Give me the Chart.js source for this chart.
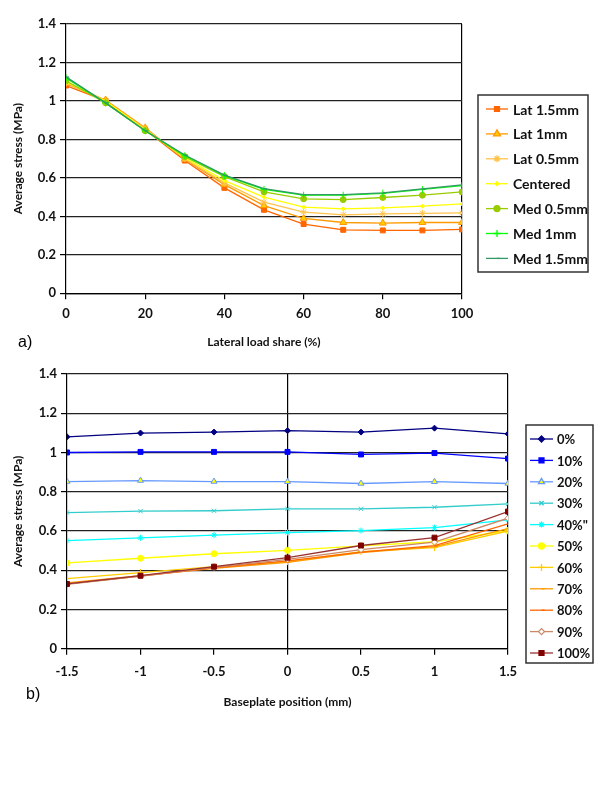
<!DOCTYPE html>
<html>
<head>
<meta charset="utf-8">
<script src="https://cdn.jsdelivr.net/npm/chart.js@4"></script>
<style>
  body { margin: 0; background: #fff; width: 600px; height: 800px; position: relative; font-family: Lato, sans-serif; }
  canvas { position: absolute; left: 0; }
  #cA { top: 0; }
  #cB { top: 355px; }
  .tag { position: absolute; font-family: "Liberation Sans", Arial, sans-serif; font-size: 16px; color: #000; }
</style>
</head>
<body>
<canvas id="cA" width="600" height="355"></canvas>
<canvas id="cB" width="600" height="365"></canvas>
<div class="tag" style="left:18px; top:333px;">a)</div>
<div class="tag" style="left:26px; top:685px;">b)</div>
<script>
// chart a: stress vs lateral load share
const loadShare = [0, 10, 20, 30, 40, 50, 60, 70, 80, 90, 100];
const lat15 = [1.08, 1.0, 0.85, 0.69, 0.548, 0.434, 0.36, 0.33, 0.327, 0.327, 0.332];
const lat1 = [1.09, 1.005, 0.86, 0.697, 0.565, 0.456, 0.39, 0.368, 0.365, 0.368, 0.368];
const lat05 = [1.095, 1.0, 0.855, 0.70, 0.574, 0.474, 0.422, 0.408, 0.413, 0.416, 0.418];
const centered = [1.10, 1.0, 0.85, 0.705, 0.586, 0.50, 0.448, 0.439, 0.444, 0.453, 0.465];
const med05 = [1.105, 0.99, 0.845, 0.71, 0.607, 0.527, 0.491, 0.487, 0.498, 0.51, 0.527];
const med1 = [1.12, 0.99, 0.845, 0.715, 0.612, 0.54, 0.51, 0.51, 0.52, 0.54, 0.56];
const med15 = [1.125, 0.99, 0.845, 0.719, 0.614, 0.544, 0.513, 0.513, 0.522, 0.543, 0.564];
const labelsA = ['Lat 1.5mm', 'Lat 1mm', 'Lat 0.5mm', 'Centered', 'Med 0.5mm', 'Med 1mm', 'Med 1.5mm'];

// chart b: stress vs baseplate position
const position = [-1.5, -1, -0.5, 0, 0.5, 1, 1.5];
const p0 = [1.08, 1.099, 1.104, 1.111, 1.104, 1.124, 1.095];
const p10 = [1.0, 1.003, 1.003, 1.003, 0.99, 0.997, 0.969];
const p20 = [0.852, 0.857, 0.852, 0.851, 0.842, 0.851, 0.842];
const p30 = [0.694, 0.701, 0.703, 0.713, 0.713, 0.721, 0.738];
const p40 = [0.551, 0.565, 0.579, 0.592, 0.602, 0.617, 0.657];
const p50 = [0.437, 0.461, 0.484, 0.501, 0.524, 0.545, 0.602];
const p60 = [0.357, 0.388, 0.418, 0.444, 0.495, 0.515, 0.60];
const p70 = [0.335, 0.372, 0.41, 0.44, 0.49, 0.52, 0.612];
const p80 = [0.33, 0.37, 0.412, 0.448, 0.492, 0.525, 0.636];
const p90 = [0.328, 0.37, 0.415, 0.455, 0.505, 0.543, 0.665];
const p100 = [0.33, 0.372, 0.418, 0.464, 0.526, 0.566, 0.699];
const labelsB = ['0%', '10%', '20%', '30%', '40%"', '50%', '60%', '70%', '80%', '90%', '100%'];

const FONT = 'Lato, sans-serif';
const fmt = v => String(+Number(v).toFixed(2));

function mkSet(label, xs, ys, line, style, fill, stroke, r, i) {
    return {
        label: label,
        data: xs.map((x, k) => ({ x: x, y: ys[k] })),
        borderColor: line,
        borderWidth: 1.3,
        pointStyle: style,
        pointRadius: r,
        pointBackgroundColor: fill,
        pointBorderColor: stroke,
        pointBorderWidth: 1,
        tension: 0,
        order: -i
    };
}

// legend drawn inside a box, line + marker like the original
const boxLegend = {
    id: 'boxLegend',
    afterDraw(chart, args, o) {
        const ctx = chart.ctx;
        ctx.save();
        ctx.strokeStyle = '#333';
        ctx.lineWidth = 1.5;
        ctx.strokeRect(o.x, o.y, o.w, o.h);
        const sets = chart.data.datasets;
        sets.forEach((ds, i) => {
            const y = o.y + o.first + i * o.step;
            ctx.strokeStyle = ds.borderColor;
            ctx.lineWidth = ds.borderWidth;
            ctx.beginPath();
            ctx.moveTo(o.x + o.lx, y);
            ctx.lineTo(o.x + o.lx + o.len, y);
            ctx.stroke();
            ctx.fillStyle = ds.pointBackgroundColor;
            ctx.strokeStyle = ds.pointBorderColor;
            Chart.helpers.drawPoint(ctx, { pointStyle: ds.pointStyle, radius: ds.pointRadius, borderWidth: 1, rotation: 0 },
                o.x + o.lx + o.len / 2, y);
            ctx.fillStyle = '#111';
            ctx.font = 'bold ' + o.size + 'px ' + FONT;
            ctx.textBaseline = 'middle';
            ctx.textAlign = 'left';
            ctx.fillText(ds.label, o.x + o.tx, y + 1);
        });
        ctx.restore();
    }
};

const tickFont = { family: FONT, size: 13, weight: 'bold' };
const titleFont = { family: FONT, size: 12, weight: 'bold' };

function baseOptions(xOpts, yW, xH, pad, legend) {
    return {
        responsive: false,
        animation: false,
        layout: { padding: pad },
        plugins: { legend: { display: false }, tooltip: { enabled: false }, boxLegend: legend },
        scales: {
            x: Object.assign({
                type: 'linear',
                afterFit: s => { s.height = xH; },
                border: { color: '#000', width: 1.2 }
            }, xOpts),
            y: {
                min: 0, max: 1.4,
                afterFit: s => { s.width = yW; },
                border: { color: '#000', width: 1.2 },
                grid: { color: '#222', lineWidth: 1.2, tickLength: 6, tickColor: '#000' },
                ticks: { stepSize: 0.2, color: '#111', font: tickFont, padding: 4, callback: fmt },
                title: { display: true, text: 'Average stress (MPa)', color: '#111', font: titleFont, padding: { top: 11, bottom: 2 } }
            }
        }
    };
}

const colsA = [
    ['#FF6600', 'rect', '#FF6600', '#FF6600', 3.5],
    ['#FF9900', 'triangle', '#FFCC00', '#FF9900', 4],
    ['#FFC34D', 'star', '#FFC34D', '#FFC34D', 3.5],
    ['#FFFF00', 'rectRot', '#FFFF00', '#FFFF00', 2],
    ['#99CC00', 'circle', '#99CC00', '#99CC00', 3],
    ['#00FF00', 'cross', '#00FF00', '#00FF00', 3.5],
    ['#339966', 'dash', '#339966', '#339966', 3]
];
const seriesA = [lat15, lat1, lat05, centered, med05, med1, med15];

new Chart(document.getElementById('cA'), {
    type: 'line',
    data: { datasets: seriesA.map((s, i) => mkSet(labelsA[i], loadShare, s, colsA[i][0], colsA[i][1], colsA[i][2], colsA[i][3], colsA[i][4], i)) },
    options: baseOptions({
        min: 0, max: 100,
        grid: { color: c => (c.tick && c.tick.value === 100) ? '#000' : 'rgba(0,0,0,0)', lineWidth: 1.2, tickLength: 6, tickColor: '#000' },
        ticks: { stepSize: 20, color: '#111', font: tickFont, padding: 7, maxRotation: 0, callback: fmt },
        title: { display: true, text: 'Lateral load share (%)', color: '#111', font: titleFont, padding: { top: 10, bottom: 6 } }
    }, 66, 61.7, { top: 24, right: 138, bottom: 0, left: 0 },
    { x: 478, y: 95, w: 110, h: 177, first: 14, step: 24.9, lx: 8, len: 22, tx: 35, size: 14 }),
    plugins: [boxLegend]
});

const colsB = [
    ['#000080', 'rectRot', '#000080', '#000080', 3],
    ['#0000FF', 'rect', '#0000FF', '#0000FF', 3.5],
    ['#6699FF', 'triangle', '#FFFF00', '#6699FF', 3.5],
    ['#33CCCC', 'crossRot', '#33CCCC', '#33CCCC', 3],
    ['#00FFFF', 'star', '#00FFFF', '#00FFFF', 3],
    ['#FFFF00', 'circle', '#FFFF00', '#FFFF00', 3],
    ['#FFCC00', 'cross', '#FFCC00', '#FFCC00', 3.5],
    ['#FF9900', 'dash', '#FF9900', '#FF9900', 3],
    ['#FF6600', 'dash', '#FF6600', '#FF6600', 3],
    ['#CC8866', 'rectRot', '#FFFFFF', '#CC8866', 3],
    ['#993333', 'rect', '#800000', '#800000', 3.5]
];
const seriesB = [p0, p10, p20, p30, p40, p50, p60, p70, p80, p90, p100];

new Chart(document.getElementById('cB'), {
    type: 'line',
    data: { datasets: seriesB.map((s, i) => mkSet(labelsB[i], position, s, colsB[i][0], colsB[i][1], colsB[i][2], colsB[i][3], colsB[i][4], i)) },
    options: baseOptions({
        min: -1.5, max: 1.5,
        grid: { color: c => (c.tick && (c.tick.value === 0 || c.tick.value === 1.5)) ? '#000' : 'rgba(0,0,0,0)', lineWidth: 1.2, tickLength: 6, tickColor: '#000' },
        ticks: { stepSize: 0.5, color: '#111', font: tickFont, padding: 9, maxRotation: 0, callback: fmt },
        title: { display: true, text: 'Baseplate position (mm)', color: '#111', font: titleFont, padding: { top: 10, bottom: 11 } }
    }, 67, 71.3, { top: 19, right: 92, bottom: 0, left: 0 },
    { x: 526, y: 70, w: 67, h: 238, first: 14, step: 21.4, lx: 4, len: 23, tx: 31, size: 13 }),
    plugins: [boxLegend]
});
</script>
</body>
</html>
